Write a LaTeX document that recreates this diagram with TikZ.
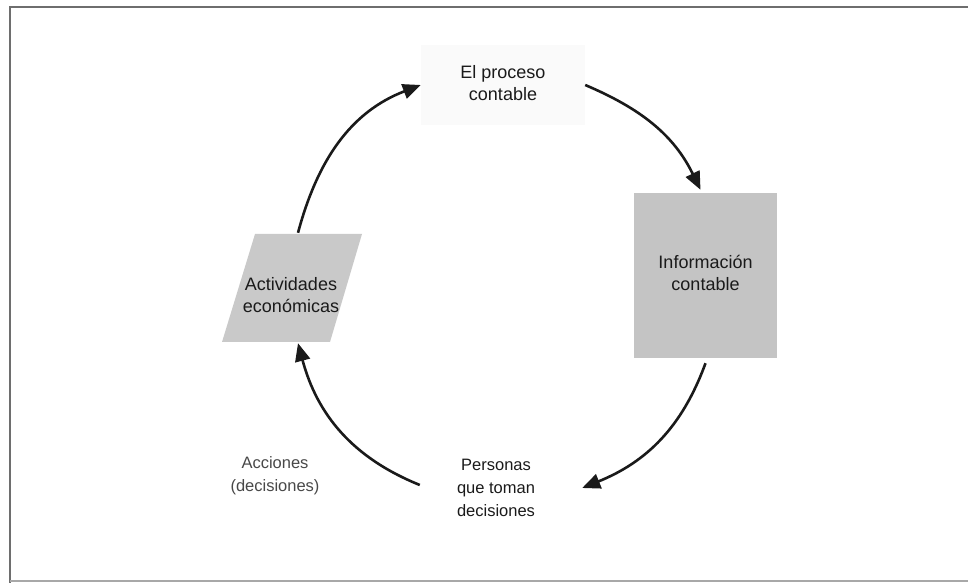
\documentclass[tikz,border=0pt]{standalone}
\usepackage{fontspec}
\setmainfont{Liberation Sans}
\usetikzlibrary{arrows.meta}
\definecolor{ink}{HTML}{1A1A1A}
\definecolor{framecol}{HTML}{6E6E6E}
\tikzset{
  boxlabel/.style={font=\fontsize{18}{22}\selectfont, text=ink, align=center},
  smalllabel/.style={font=\fontsize{16.5}{23}\selectfont, text=ink, align=center},
  cyclearrow/.style={line width=2.6pt, draw=ink, -{Triangle[length=18pt,width=15pt]}},
}
\begin{document}
\begin{tikzpicture}[x=1pt,y=1pt]
\useasboundingbox (0,0) rectangle (968,583);
% frame
\draw[framecol, line width=1.6pt] (968,576) -- (10,576) -- (10,0);
\draw[framecol!60, line width=1.2pt] (10,2) -- (968,2);

% nodes
\node[boxlabel, fill=black!2, minimum width=164pt, minimum height=80pt] (proc) at (503,498)
  {\raisebox{3pt}{\begin{tabular}{@{}c@{}}El proceso\\contable\end{tabular}}};
\node[boxlabel, fill=black!23, minimum width=143pt, minimum height=165pt] (info) at (705.5,307.5)
  {\raisebox{6pt}{\begin{tabular}{@{}c@{}}Información\\contable\end{tabular}}};
\fill[black!21] (255,349) -- (362,349) -- (330,241) -- (222,241) -- cycle;
\node[minimum width=108pt, minimum height=110pt, inner sep=0pt] (actshape) at (292,295) {};
\node[boxlabel] (act) at (291,288) {Actividades\\económicas};
\node[smalllabel, minimum width=144pt, inner xsep=0pt] (pers) at (496,95) {Personas\\que toman\\decisiones};
\node[smalllabel, text=ink!80] (acc) at (275,107) {Acciones\\(decisiones)};

% connectors
\draw[cyclearrow] ([xshift=6pt]actshape.north) to[out=75,in=201] (proc.west);
\draw[cyclearrow] (proc.east) to[out=-23,in=116] ([xshift=-5pt,yshift=3pt]info.north);
\draw[cyclearrow] ([yshift=-5pt]info.south) to[out=-110,in=22] ([xshift=14pt,yshift=0pt]pers.east);
\draw[cyclearrow] ([xshift=-4pt,yshift=3pt]pers.west) to[out=158,in=285] ([xshift=6pt]actshape.south);
\end{tikzpicture}
\end{document}
